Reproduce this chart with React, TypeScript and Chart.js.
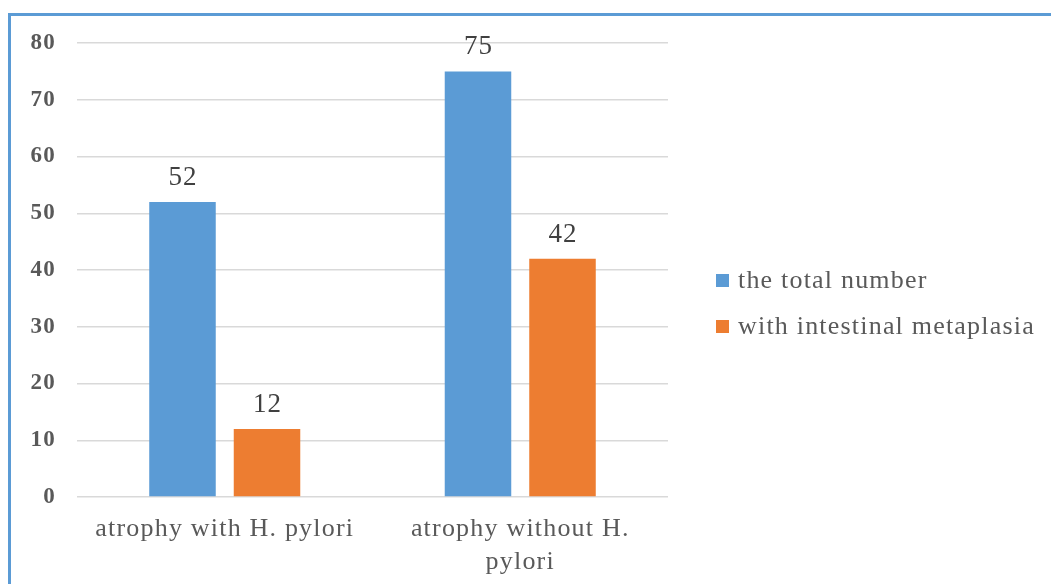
import React, { useEffect, useRef } from "react";
import { Chart, registerables } from "chart.js";

Chart.register(...registerables);

const categories: (string | string[])[] = ["atrophy with H. pylori", ["atrophy without H.", "pylori"]];
const seriesNames = ["the total number", "with intestinal metaplasia"];
const totalValues = [52, 75];
const metaplasiaValues = [12, 42];
const yTicks = { min: 0, max: 80, step: 10 };

const BLUE = "#5B9BD5";
const ORANGE = "#ED7D31";
const FONT = "'Liberation Serif', 'Times New Roman', serif";
const SPACING = "1.2px";

const spacingPlugin = {
  id: "spacing",
  beforeUpdate(chart: any) {
    chart.ctx.letterSpacing = SPACING;
  },
  beforeLayout(chart: any) {
    chart.ctx.letterSpacing = SPACING;
  },
  beforeDraw(chart: any) {
    chart.ctx.letterSpacing = SPACING;
  },
};

const valueLabels = {
  id: "valueLabels",
  afterDatasetsDraw(chart: any) {
    const ctx = chart.ctx;
    ctx.save();
    ctx.letterSpacing = SPACING;
    ctx.font = `27px ${FONT}`;
    ctx.fillStyle = "#404040";
    ctx.textAlign = "center";
    ctx.textBaseline = "alphabetic";
    chart.data.datasets.forEach((ds: any, i: number) => {
      const meta = chart.getDatasetMeta(i);
      meta.data.forEach((bar: any, j: number) => {
        ctx.fillText(String(ds.data[j]), bar.x + 0.6, bar.y - 17);
      });
    });
    ctx.restore();
  },
};

// legend drawn at the right of the plot area, from the dataset labels/colours
const sideLegend = {
  id: "sideLegend",
  afterDraw(chart: any) {
    const ctx = chart.ctx;
    const area = chart.chartArea;
    const left = area.right + 48;
    const step = 46;
    const n = chart.data.datasets.length;
    const firstY = 303 - ((n - 1) * step) / 2;
    ctx.save();
    ctx.letterSpacing = SPACING;
    ctx.font = `26px ${FONT}`;
    ctx.textAlign = "left";
    ctx.textBaseline = "middle";
    chart.data.datasets.forEach((ds: any, i: number) => {
      const y = firstY + i * step;
      ctx.fillStyle = ds.backgroundColor;
      ctx.fillRect(left, y - 6, 13, 13);
      ctx.fillStyle = "#595959";
      ctx.fillText(ds.label, left + 22, y + 1);
    });
    ctx.restore();
  },
};

export default function App() {
  const ref = useRef<HTMLCanvasElement>(null);
  useEffect(() => {
    if (!ref.current) return;
    const chart = new Chart(ref.current, {
      type: "bar",
      data: {
        labels: categories as any,
        datasets: [
          { label: seriesNames[0], data: totalValues, backgroundColor: BLUE },
          { label: seriesNames[1], data: metaplasiaValues, backgroundColor: ORANGE },
        ],
      },
      options: {
        animation: false,
        responsive: false,
        events: [],
        layout: { padding: { top: 43, left: 20, right: 383, bottom: 5 } },
        datasets: { bar: { categoryPercentage: 0.572, barPercentage: 0.787 } },
        scales: {
          x: {
            grid: { display: false },
            border: { display: false },
            ticks: {
              color: "#595959",
              font: { family: FONT, size: 26, lineHeight: 1.25 },
              padding: 8,
              maxRotation: 0,
              autoSkip: false,
            },
            afterFit: (s: any) => {
              s.height = 82;
            },
          },
          y: {
            min: yTicks.min,
            max: yTicks.max,
            grid: { color: "#D9D9D9", lineWidth: 1.5, drawTicks: false },
            border: { display: false },
            ticks: {
              stepSize: yTicks.step,
              color: "#595959",
              font: { family: FONT, size: 23, weight: "bold" },
              padding: 21,
            },
            afterFit: (s: any) => {
              s.width = 57;
            },
          },
        },
        plugins: {
          legend: { display: false },
          tooltip: { enabled: false },
        },
      },
      plugins: [spacingPlugin, valueLabels, sideLegend],
    } as any);
    return () => chart.destroy();
  }, []);

  return (
    <div>
      <div
        style={{
          position: "fixed",
          left: 8,
          top: 13,
          right: 0,
          bottom: 0,
          borderTop: "3px solid #5B9BD5",
          borderLeft: "3px solid #5B9BD5",
        }}
      />
      <canvas
        ref={ref}
        width={1051}
        height={584}
        style={{ position: "fixed", left: 0, top: 0, width: 1051, height: 584 }}
      />
    </div>
  );
}
